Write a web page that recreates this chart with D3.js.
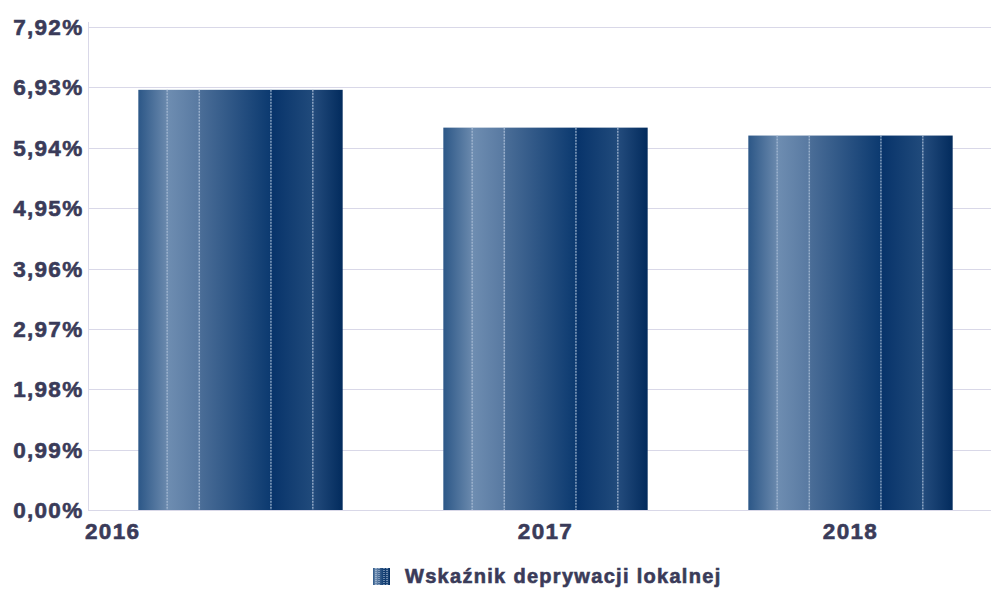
<!DOCTYPE html>
<html>
<head>
<meta charset="utf-8">
<script src="https://cdn.jsdelivr.net/npm/d3@7"></script>
<style>
  body { margin: 0; background: #fff; }
  svg { display: block; }
  text {
    font-family: "Liberation Sans", Arial, sans-serif; font-weight: bold;
    fill: #3a3b59; stroke: #3a3b59; stroke-width: 0.6px;
  }
</style>
</head>
<body>
<svg width="991" height="590"></svg>
<script>
const years = ['2016', '2017', '2018'];
const values = [6.89, 6.27, 6.14];
const yTicks = [0, 0.99, 1.98, 2.97, 3.96, 4.95, 5.94, 6.93, 7.92];
const seriesName = 'Wskaźnik deprywacji lokalnej';

const svg = d3.select('svg');
const margin = { top: 27, right: 0, bottom: 80, left: 88 };
const width = 991, height = 590;

const x = d3.scaleBand()
    .domain(years)
    .range([margin.left, 1003])
    .paddingInner(0.33)
    .paddingOuter(0.165);

const y = d3.scaleLinear()
    .domain([0, 7.92])
    .range([height - margin.bottom, margin.top]);

// gradient for bars
const defs = svg.append('defs');
const grad = defs.append('linearGradient')
    .attr('id', 'barGrad')
    .attr('x1', '0%').attr('x2', '100%').attr('y1', '0%').attr('y2', '0%');
const stops = [
    [0, '#2c5787'], [0.14, '#6a89ad'], [0.145, '#6e8db1'], [0.30, '#5879a1'],
    [0.305, '#4a6d97'], [0.645, '#0c3a70'], [0.65, '#07336a'], [0.85, '#204a7b'],
    [0.855, '#244c7d'], [1, '#022b5d']
];
stops.forEach(s => grad.append('stop').attr('offset', s[0]).attr('stop-color', s[1]));

// gridlines
svg.append('g')
    .selectAll('line')
    .data(yTicks)
    .join('line')
    .attr('x1', margin.left)
    .attr('x2', width)
    .attr('y1', d => Math.round(y(d)) + 0.5)
    .attr('y2', d => Math.round(y(d)) + 0.5)
    .attr('stroke', '#d9d8e8')
    .attr('stroke-width', 1);

svg.append('line')
    .attr('x1', margin.left + 0.5).attr('x2', margin.left + 0.5)
    .attr('y1', 22).attr('y2', y(0))
    .attr('stroke', '#d9d8e8');

// y labels
svg.append('g')
    .selectAll('text')
    .data(yTicks)
    .join('text')
    .attr('x', 83.5)
    .attr('y', d => y(d) + 8)
    .attr('text-anchor', 'end')
    .style('font-size', '22.5px')
    .style('letter-spacing', '1.3px')
    .text(d => d.toFixed(2).replace('.', ',') + '%');

// bars
const stripes = [0.141, 0.298, 0.649, 0.854];
const bars = svg.append('g')
    .selectAll('g')
    .data(years)
    .join('g');

bars.append('rect')
    .attr('x', d => x(d))
    .attr('y', (d, i) => y(values[i]))
    .attr('width', x.bandwidth())
    .attr('height', (d, i) => y(0) - y(values[i]))
    .attr('fill', 'url(#barGrad)');

bars.each(function (d, i) {
    d3.select(this).selectAll('line')
        .data(stripes)
        .join('line')
        .attr('x1', s => x(d) + s * x.bandwidth())
        .attr('x2', s => x(d) + s * x.bandwidth())
        .attr('y1', y(values[i]))
        .attr('y2', y(0))
        .attr('stroke', '#a9bdd6')
        .attr('stroke-width', 1.2)
        .attr('stroke-dasharray', '2,1');
});

// x labels
svg.append('g')
    .selectAll('text')
    .data(years)
    .join('text')
    .attr('x', (d, i) => i === 0 ? margin.left - 3 : x(d) + x.bandwidth() / 2)
    .attr('y', 539)
    .attr('text-anchor', (d, i) => i === 0 ? 'start' : 'middle')
    .style('font-size', '22.5px')
    .style('letter-spacing', '1.3px')
    .text(d => d);

// legend
const legend = svg.append('g').attr('transform', 'translate(373,568)');
legend.append('rect')
    .attr('width', 17).attr('height', 17)
    .attr('fill', 'url(#barGrad)');
[3, 6, 11, 14].forEach(px => {
    legend.append('line')
        .attr('x1', px).attr('x2', px).attr('y1', 0).attr('y2', 17)
        .attr('stroke', '#c3d2e4').attr('stroke-width', 1).attr('stroke-dasharray', '1,1');
});
legend.append('text')
    .attr('x', 32)
    .attr('y', 15)
    .style('font-size', '20px')
    .style('letter-spacing', '1.3px')
    .text(seriesName);
</script>
</body>
</html>
